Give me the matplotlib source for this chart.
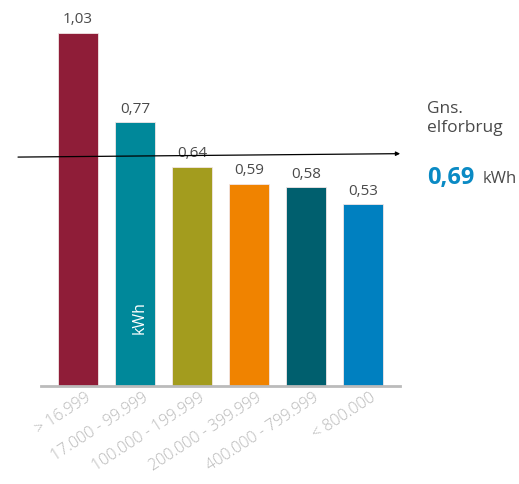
import matplotlib.pyplot as plt
import matplotlib.transforms as mtransforms

plt.rcParams['font.family'] = ['Open Sans', 'DejaVu Sans']

# data
categories = ['> 16.999', '17.000 - 99.999', '100.000 - 199.999',
              '200.000 - 399.999', '400.000 - 799.999', '< 800.000']
values = [1.03, 0.77, 0.64, 0.59, 0.58, 0.53]
colors = ['#8f1d38', '#00889a', '#a39c1e', '#f08300', '#005f6e', '#0080c0']
avg = 0.69

fig = plt.figure(figsize=(5.19, 4.84), dpi=100)
ax = fig.add_axes([0.079, 0.2025, 0.692, 0.7975])

x = list(range(len(values)))
ax.bar(x, values, width=0.70, color=colors, edgecolor='#f2e6e6', linewidth=0.6)

for xi, v in zip(x, values):
    ax.annotate(f'{v:.2f}'.replace('.', ','), (xi, v), xytext=(0, 4),
                textcoords='offset points', ha='center', va='bottom',
                fontsize=11, color='#4a4a4a')

# kWh label inside second bar
ax.text(x[1] + 0.08, 0.2, 'kWh', rotation=90, color='white', fontsize=11.5,
        ha='center', va='center')

# average arrow
ax.annotate('', xy=(1.0, avg - 0.012), xytext=(-0.064, avg - 0.022),
            xycoords=('axes fraction', 'data'), textcoords=('axes fraction', 'data'),
            arrowprops=dict(arrowstyle='-|>', color='black', lw=0.9,
                            mutation_scale=6, shrinkA=0, shrinkB=0),
            annotation_clip=False)

ax.set_xlim(-0.649, 5.649)
ax.set_ylim(0, 1.1264)
ax.set_xticks(x)
ax.set_xticklabels(categories, rotation=33, ha='right', rotation_mode='anchor',
                   color='#b8b8b8', fontsize=11.5, fontweight='light')
ax.tick_params(axis='x', length=0, pad=3)
offset = mtransforms.ScaledTranslation(0.07, 0, fig.dpi_scale_trans)
for lbl in ax.get_xticklabels():
    lbl.set_transform(lbl.get_transform() + offset)
ax.set_yticks([])
for s in ['top', 'right', 'left']:
    ax.spines[s].set_visible(False)
ax.spines['bottom'].set_color('#bbbbbb')
ax.spines['bottom'].set_linewidth(2)

# right side note
fig.text(0.823, 0.755, 'Gns.\nelforbrug', fontsize=12.5, color='#4a4a4a',
         ha='left', va='center', linespacing=1.3)
fig.text(0.823, 0.632, '0,69', fontsize=17, fontweight='bold',
         color='#0a8ac4', ha='left', va='center')
fig.text(0.930, 0.630, 'kWh', fontsize=12, color='#4a4a4a', ha='left',
         va='center')

plt.savefig('out.png', dpi=100)
